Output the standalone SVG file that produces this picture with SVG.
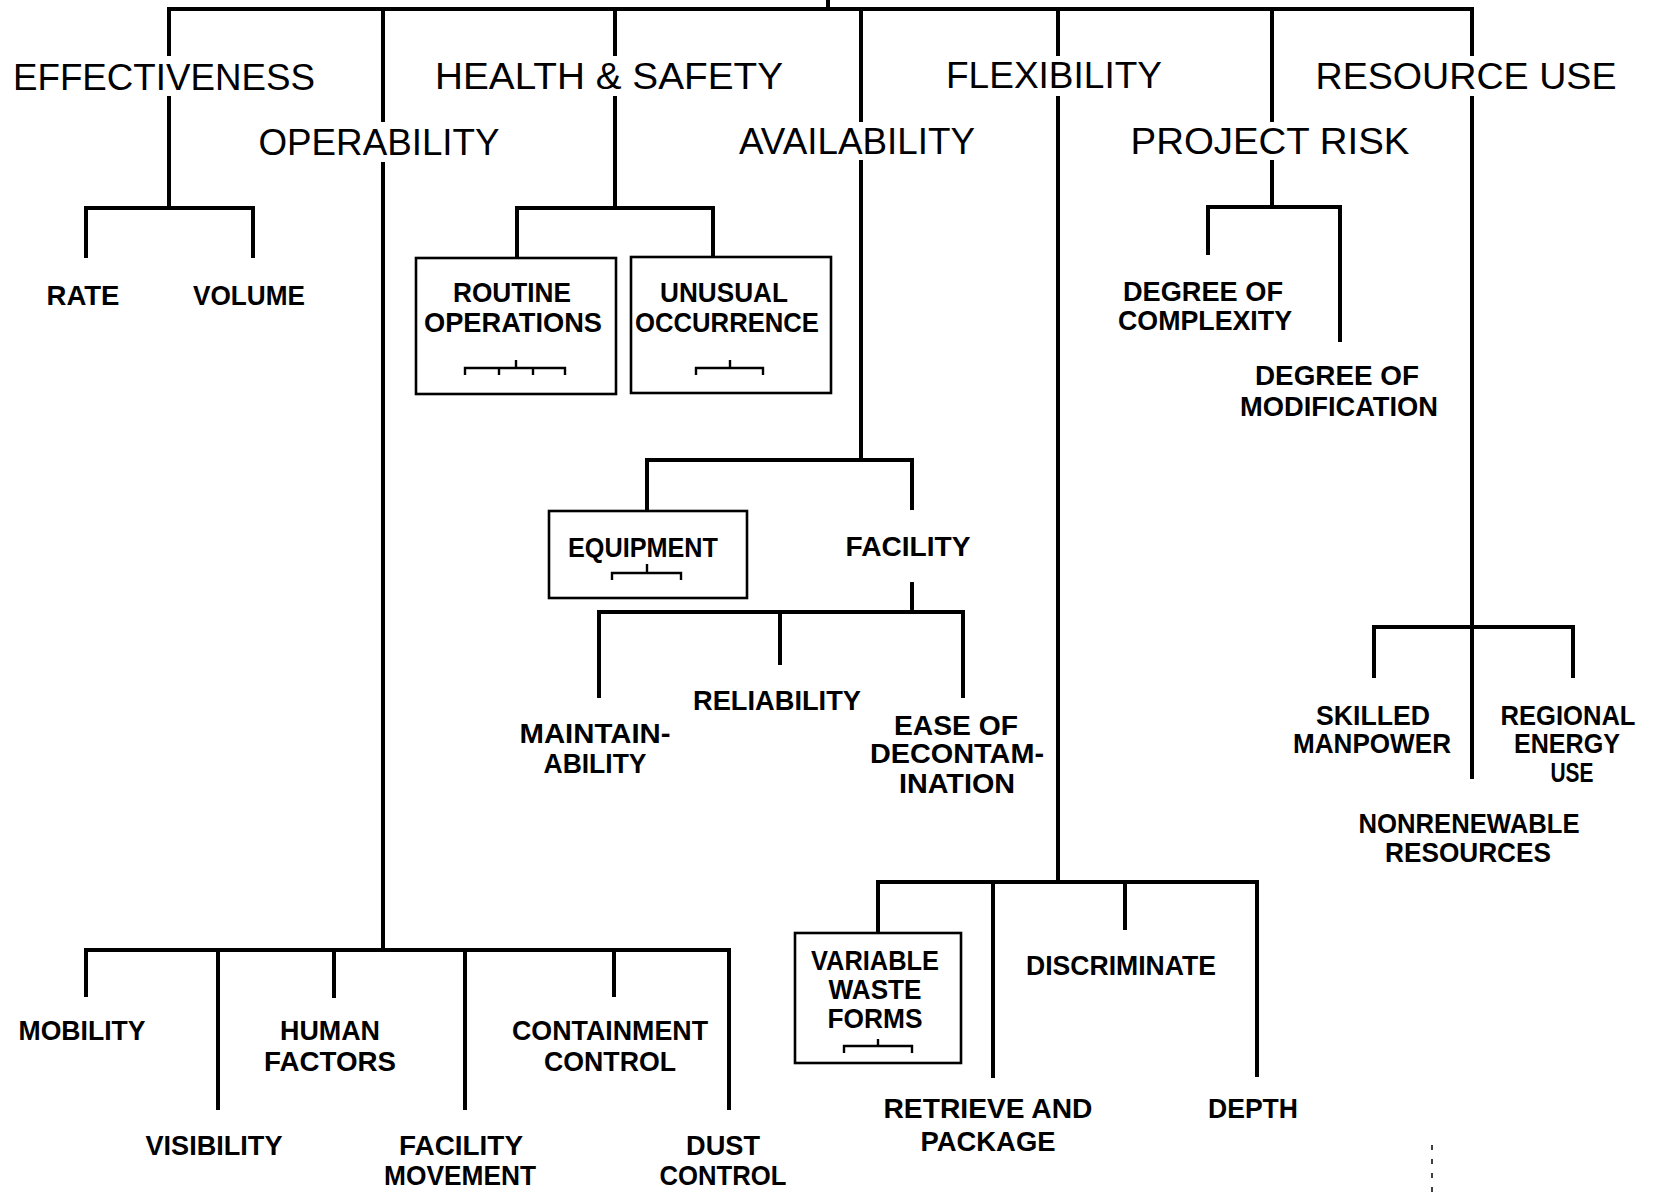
<svg xmlns="http://www.w3.org/2000/svg" width="1656" height="1197" viewBox="0 0 1656 1197">
<style>
.ln{stroke:#000;stroke-width:4;fill:none;stroke-linecap:butt;stroke-linejoin:miter}
.bx{stroke:#000;stroke-width:2.6;fill:none}
.sb{stroke:#000;stroke-width:2.4;fill:none}
.t1{font-family:"Liberation Sans",Arial,sans-serif;font-size:37px;fill:#000;text-anchor:middle}
.t2{font-family:"Liberation Sans",Arial,sans-serif;font-size:28px;font-weight:bold;fill:#000;text-anchor:middle}
</style>
<rect width="1656" height="1197" fill="#fff"/>
<g id="connectors">
  <path class="ln" d="M828 0V9"/>
  <path class="ln" d="M167 9H1474"/>
  <!-- level 1 drops -->
  <path class="ln" d="M169 9V56M169 96V208"/>
  <path class="ln" d="M383 9V122M383 162V950"/>
  <path class="ln" d="M615 9V56M615 96V208"/>
  <path class="ln" d="M861 9V122M861 160V460"/>
  <path class="ln" d="M1058 9V56M1058 96V882"/>
  <path class="ln" d="M1272 9V122M1272 160V207"/>
  <path class="ln" d="M1472 9V56M1472 96V779"/>
  <!-- effectiveness -->
  <path class="ln" d="M86 258V208H253V258"/>
  <!-- health & safety -->
  <path class="ln" d="M517 258V208H713V257"/>
  <!-- availability -->
  <path class="ln" d="M647 511V460H912V510"/>
  <path class="ln" d="M912 582V612"/>
  <path class="ln" d="M599 698V612H963V698"/>
  <path class="ln" d="M780 612V665"/>
  <!-- project risk -->
  <path class="ln" d="M1208 255V207H1340V342"/>
  <!-- resource use -->
  <path class="ln" d="M1374 678V627H1573V678"/>
  <!-- operability -->
  <path class="ln" d="M86 997V950H729V1110"/>
  <path class="ln" d="M218 950V1110"/>
  <path class="ln" d="M334 950V998"/>
  <path class="ln" d="M465 950V1110"/>
  <path class="ln" d="M614 950V997"/>
  <!-- flexibility -->
  <path class="ln" d="M878 933V882H1257V1077"/>
  <path class="ln" d="M993 882V1078"/>
  <path class="ln" d="M1125 882V930"/>
</g>
<g id="n-effectiveness"><text class="t1" x="164" y="90" textLength="302" lengthAdjust="spacingAndGlyphs">EFFECTIVENESS</text></g>
<g id="n-health"><text class="t1" x="609" y="89" textLength="348" lengthAdjust="spacingAndGlyphs">HEALTH &amp; SAFETY</text></g>
<g id="n-flexibility"><text class="t1" x="1054" y="88" textLength="216" lengthAdjust="spacingAndGlyphs">FLEXIBILITY</text></g>
<g id="n-resource"><text class="t1" x="1466" y="89" textLength="301" lengthAdjust="spacingAndGlyphs">RESOURCE USE</text></g>
<g id="n-operability"><text class="t1" x="379" y="155" textLength="241" lengthAdjust="spacingAndGlyphs">OPERABILITY</text></g>
<g id="n-availability"><text class="t1" x="857" y="154" textLength="236" lengthAdjust="spacingAndGlyphs">AVAILABILITY</text></g>
<g id="n-projectrisk"><text class="t1" x="1270" y="154" textLength="279" lengthAdjust="spacingAndGlyphs">PROJECT RISK</text></g>

<g id="n-rate"><text class="t2" x="83" y="305" textLength="73" lengthAdjust="spacingAndGlyphs">RATE</text></g>
<g id="n-volume"><text class="t2" x="249" y="305" textLength="112" lengthAdjust="spacingAndGlyphs">VOLUME</text></g>

<g id="n-routine">
  <rect class="bx" x="416" y="258" width="200" height="136"/>
  <text class="t2" x="512" y="302" textLength="118" lengthAdjust="spacingAndGlyphs">ROUTINE</text>
  <text class="t2" x="513" y="332" textLength="178" lengthAdjust="spacingAndGlyphs">OPERATIONS</text>
  <path class="sb" d="M465 375V368H565V375M499 368V375M533 368V375M516 368V360"/>
</g>
<g id="n-unusual">
  <rect class="bx" x="631" y="257" width="200" height="136"/>
  <text class="t2" x="724" y="302" textLength="128" lengthAdjust="spacingAndGlyphs">UNUSUAL</text>
  <text class="t2" x="727" y="332" textLength="184" lengthAdjust="spacingAndGlyphs">OCCURRENCE</text>
  <path class="sb" d="M696 375V368H763V375M730 368V360"/>
</g>

<g id="n-equipment">
  <rect class="bx" x="549" y="511" width="198" height="87"/>
  <text class="t2" x="643" y="557" textLength="150" lengthAdjust="spacingAndGlyphs">EQUIPMENT</text>
  <path class="sb" d="M612 580V573H681V580M647 573V564"/>
</g>
<g id="n-facility"><text class="t2" x="908" y="556" textLength="125" lengthAdjust="spacingAndGlyphs">FACILITY</text></g>
<g id="n-maintain">
  <text class="t2" x="595" y="743" textLength="151" lengthAdjust="spacingAndGlyphs">MAINTAIN-</text>
  <text class="t2" x="595" y="773" textLength="103" lengthAdjust="spacingAndGlyphs">ABILITY</text>
</g>
<g id="n-reliability"><text class="t2" x="777" y="710" textLength="168" lengthAdjust="spacingAndGlyphs">RELIABILITY</text></g>
<g id="n-ease">
  <text class="t2" x="956" y="735" textLength="124" lengthAdjust="spacingAndGlyphs">EASE OF</text>
  <text class="t2" x="957" y="763" textLength="174" lengthAdjust="spacingAndGlyphs">DECONTAM-</text>
  <text class="t2" x="957" y="793" textLength="116" lengthAdjust="spacingAndGlyphs">INATION</text>
</g>

<g id="n-complexity">
  <text class="t2" x="1203" y="301" textLength="160" lengthAdjust="spacingAndGlyphs">DEGREE OF</text>
  <text class="t2" x="1205" y="330" textLength="174" lengthAdjust="spacingAndGlyphs">COMPLEXITY</text>
</g>
<g id="n-modification">
  <text class="t2" x="1337" y="385" textLength="164" lengthAdjust="spacingAndGlyphs">DEGREE OF</text>
  <text class="t2" x="1339" y="416" textLength="198" lengthAdjust="spacingAndGlyphs">MODIFICATION</text>
</g>

<g id="n-skilled">
  <text class="t2" x="1373" y="725" textLength="114" lengthAdjust="spacingAndGlyphs">SKILLED</text>
  <text class="t2" x="1372" y="753" textLength="158" lengthAdjust="spacingAndGlyphs">MANPOWER</text>
</g>
<g id="n-regional">
  <text class="t2" x="1568" y="725" textLength="135" lengthAdjust="spacingAndGlyphs">REGIONAL</text>
  <text class="t2" x="1567" y="753" textLength="106" lengthAdjust="spacingAndGlyphs">ENERGY</text>
  <text class="t2" x="1572" y="782" textLength="43" lengthAdjust="spacingAndGlyphs">USE</text>
</g>
<g id="n-nonrenewable">
  <text class="t2" x="1469" y="833" textLength="221" lengthAdjust="spacingAndGlyphs">NONRENEWABLE</text>
  <text class="t2" x="1468" y="862" textLength="166" lengthAdjust="spacingAndGlyphs">RESOURCES</text>
</g>

<g id="n-variable">
  <rect class="bx" x="795" y="933" width="166" height="130"/>
  <text class="t2" x="875" y="970" textLength="128" lengthAdjust="spacingAndGlyphs">VARIABLE</text>
  <text class="t2" x="875" y="999" textLength="93" lengthAdjust="spacingAndGlyphs">WASTE</text>
  <text class="t2" x="875" y="1028" textLength="95" lengthAdjust="spacingAndGlyphs">FORMS</text>
  <path class="sb" d="M844 1053V1046H912V1053M878 1046V1039"/>
</g>
<g id="n-discriminate"><text class="t2" x="1121" y="975" textLength="190" lengthAdjust="spacingAndGlyphs">DISCRIMINATE</text></g>
<g id="n-retrieve">
  <text class="t2" x="988" y="1118" textLength="209" lengthAdjust="spacingAndGlyphs">RETRIEVE AND</text>
  <text class="t2" x="988" y="1151" textLength="135" lengthAdjust="spacingAndGlyphs">PACKAGE</text>
</g>
<g id="n-depth"><text class="t2" x="1253" y="1118" textLength="90" lengthAdjust="spacingAndGlyphs">DEPTH</text></g>

<g id="n-mobility"><text class="t2" x="82" y="1040" textLength="127" lengthAdjust="spacingAndGlyphs">MOBILITY</text></g>
<g id="n-human">
  <text class="t2" x="330" y="1040" textLength="100" lengthAdjust="spacingAndGlyphs">HUMAN</text>
  <text class="t2" x="330" y="1071" textLength="132" lengthAdjust="spacingAndGlyphs">FACTORS</text>
</g>
<g id="n-containment">
  <text class="t2" x="610" y="1040" textLength="196" lengthAdjust="spacingAndGlyphs">CONTAINMENT</text>
  <text class="t2" x="610" y="1071" textLength="132" lengthAdjust="spacingAndGlyphs">CONTROL</text>
</g>
<g id="n-visibility"><text class="t2" x="214" y="1155" textLength="137" lengthAdjust="spacingAndGlyphs">VISIBILITY</text></g>
<g id="n-facmove">
  <text class="t2" x="461" y="1155" textLength="124" lengthAdjust="spacingAndGlyphs">FACILITY</text>
  <text class="t2" x="460" y="1185" textLength="152" lengthAdjust="spacingAndGlyphs">MOVEMENT</text>
</g>
<g id="n-dust">
  <text class="t2" x="723" y="1155" textLength="74" lengthAdjust="spacingAndGlyphs">DUST</text>
  <text class="t2" x="723" y="1185" textLength="127" lengthAdjust="spacingAndGlyphs">CONTROL</text>
</g>
<g id="marks">
  <path d="M1432 1145V1197" stroke="#000" stroke-width="1.5" stroke-dasharray="5 9" fill="none"/>
</g>
</svg>
